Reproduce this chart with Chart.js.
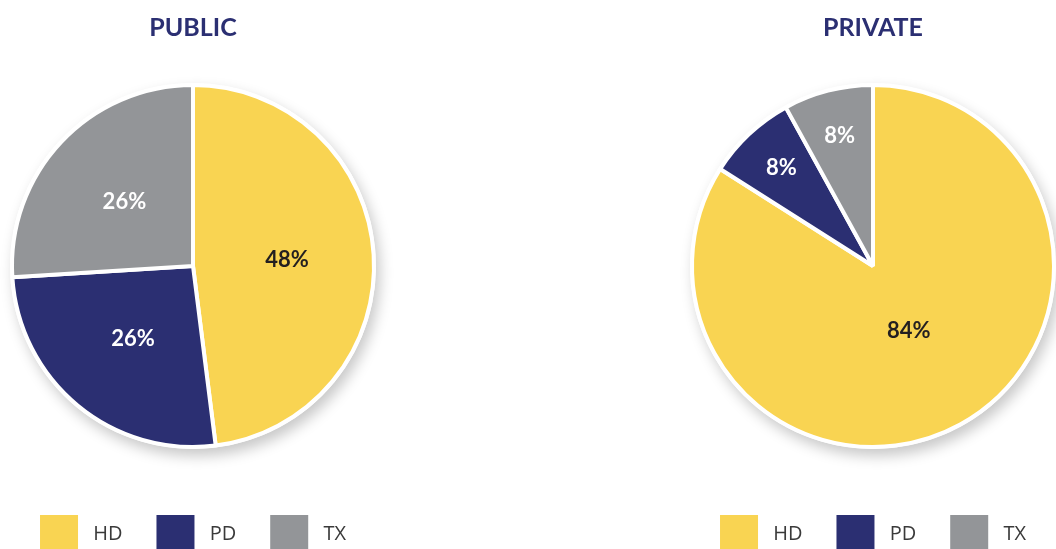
<!DOCTYPE html>
<html>
<head>
<meta charset="utf-8">
<script src="https://cdn.jsdelivr.net/npm/chart.js@4/dist/chart.umd.min.js"></script>
<style>
  html, body { margin: 0; padding: 0; background: #fff; overflow: hidden; }
  body { width: 1056px; height: 549px; position: relative; }
  .box { position: absolute; top: 0; width: 430px; height: 563px; }
  #left { left: -22px; }
  #right { left: 658px; }
</style>
</head>
<body>
<div class="box" id="left"><canvas id="publicChart"></canvas></div>
<div class="box" id="right"><canvas id="privateChart"></canvas></div>
<script>
const categories = ['HD', 'PD', 'TX'];
const publicValues = [48, 26, 26];
const privateValues = [84, 8, 8];
const colors = ['#F9D452', '#2B2F72', '#939598'];
const labelColors = ['#231F20', '#FFFFFF', '#FFFFFF'];

// soft shadow behind the pie
const shadowPlugin = {
    id: 'pieShadow',
    beforeDatasetsDraw(chart) {
        let arc = chart.getDatasetMeta(0).data[0];
        if (!arc) return;
        let p = arc.getProps(['x', 'y', 'outerRadius'], true);
        let ctx = chart.ctx;
        ctx.save();
        ctx.shadowColor = 'rgba(0,0,0,0.22)';
        ctx.shadowBlur = 14;
        ctx.shadowOffsetX = 4;
        ctx.shadowOffsetY = 7;
        ctx.fillStyle = '#fff';
        ctx.beginPath();
        ctx.arc(p.x, p.y, p.outerRadius + 2, 0, Math.PI * 2);
        ctx.fill();
        ctx.restore();
    }
};

// percent labels inside slices
const valuePlugin = {
    id: 'valueLabels',
    afterDatasetsDraw(chart) {
        let ctx = chart.ctx;
        let values = chart.data.datasets[0].data;
        ctx.save();
        ctx.font = 'bold 22px Lato';
        ctx.textAlign = 'center';
        ctx.textBaseline = 'middle';
        chart.getDatasetMeta(0).data.forEach((arc, i) => {
            let p = arc.getProps(['x', 'y', 'startAngle', 'endAngle', 'outerRadius'], true);
            let mid = (p.startAngle + p.endAngle) / 2;
            let f = 0.52;
            if (values[i] < 15) f = 0.74;
            if (values[i] > 60) f = 0.41;
            ctx.fillStyle = labelColors[i];
            ctx.fillText(values[i] + '%', p.x + Math.cos(mid) * p.outerRadius * f, p.y + Math.sin(mid) * p.outerRadius * f);
        });
        ctx.restore();
    }
};

function makePie(id, title, values) {
    const ctx = document.getElementById(id);
    new Chart(ctx, {
        type: 'pie',
        data: {
            labels: categories,
            datasets: [{
                data: values,
                backgroundColor: colors,
                borderColor: '#ffffff',
                borderWidth: 4,
                hoverOffset: 0
            }]
        },
        options: {
            responsive: true,
            maintainAspectRatio: false,
            animation: false,
            radius: 181,
            plugins: {
                title: {
                    display: true,
                    text: title,
                    color: '#2B2F72',
                    font: { family: 'Lato', size: 25, weight: 'bold', lineHeight: 1.2 },
                    padding: { top: 13, bottom: 8 }
                },
                legend: {
                    position: 'bottom',
                    labels: {
                        boxWidth: 38,
                        boxHeight: 38,
                        padding: 34,
                        color: '#3A3A3A',
                        font: { family: 'Open Sans', size: 20 },
                        generateLabels(chart) {
                            // leading space widens the gap between swatch and text
                            return Chart.overrides.pie.plugins.legend.labels.generateLabels(chart)
                                .map(l => Object.assign(l, { text: ' ' + l.text, lineWidth: 0 }));
                        }
                    }
                },
                tooltip: { enabled: false }
            }
        },
        plugins: [shadowPlugin, valuePlugin]
    });
}

makePie('publicChart', 'PUBLIC', publicValues);
makePie('privateChart', 'PRIVATE', privateValues);
</script>
</body>
</html>
